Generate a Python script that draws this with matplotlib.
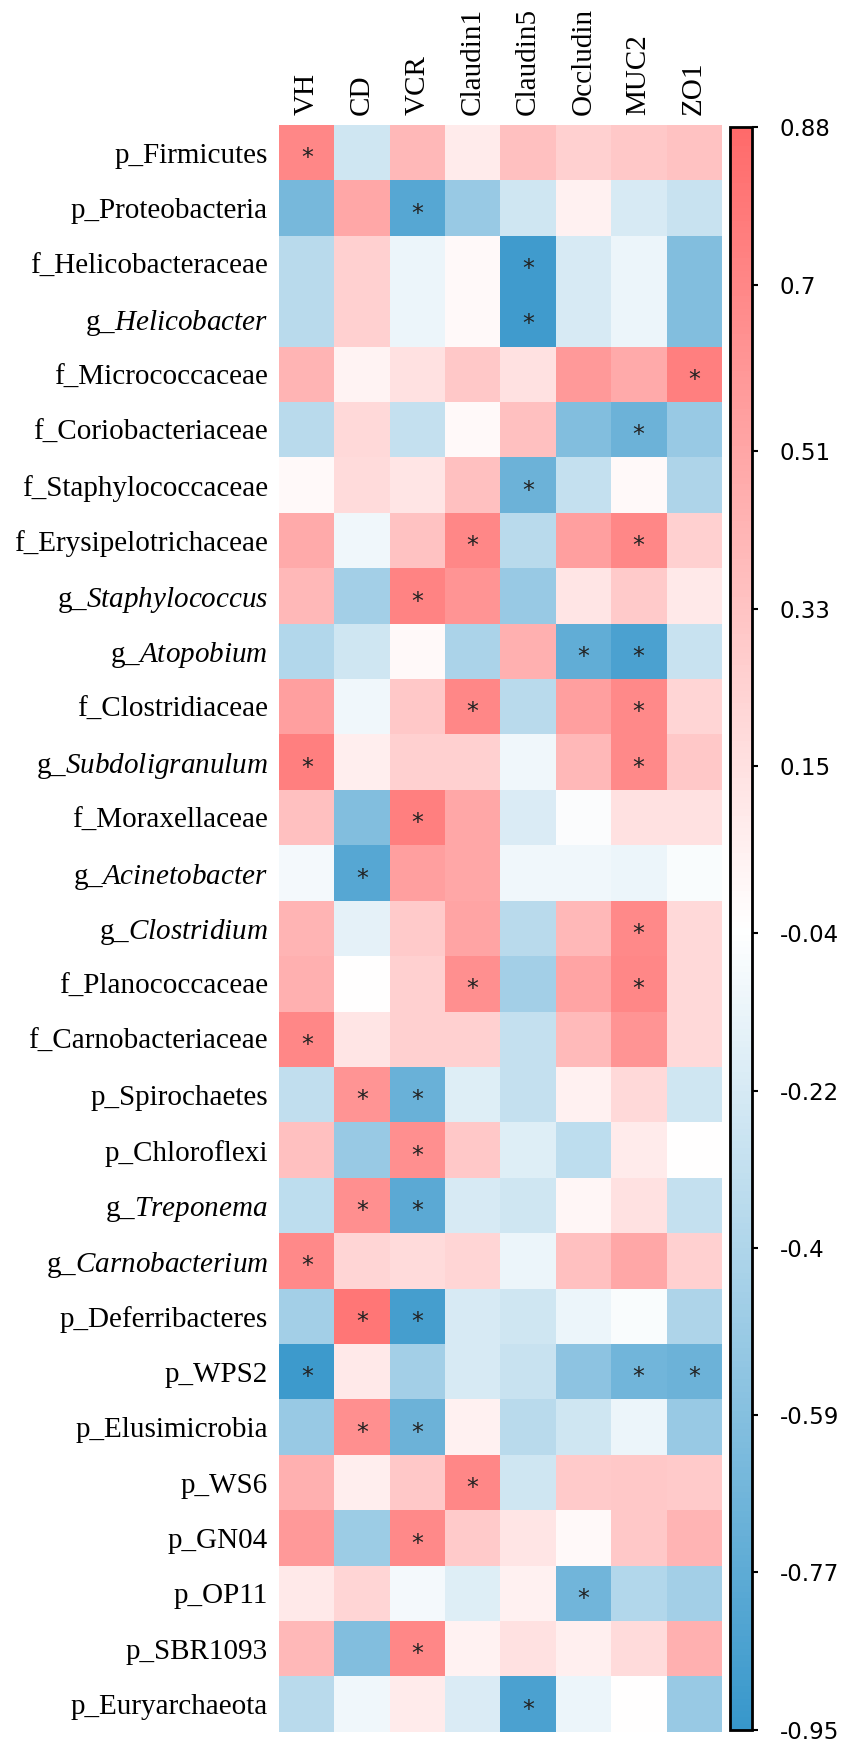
import numpy as np
import matplotlib
matplotlib.use("Agg")
import matplotlib.pyplot as plt
from matplotlib.colors import LinearSegmentedColormap, Normalize

plt.rcParams['font.family'] = ['Liberation Serif', 'DejaVu Serif']
plt.rcParams['mathtext.fontset'] = 'custom'
plt.rcParams['mathtext.rm'] = 'Liberation Serif'
plt.rcParams['mathtext.it'] = 'Liberation Serif:italic'

# columns (host indices) and rows (taxa)
cols = ["VH", "CD", "VCR", "Claudin1", "Claudin5", "Occludin", "MUC2", "ZO1"]

rows = [
    "p_Firmicutes", "p_Proteobacteria", "f_Helicobacteraceae", r"g_$Helicobacter$",
    "f_Micrococcaceae", "f_Coriobacteriaceae", "f_Staphylococcaceae",
    "f_Erysipelotrichaceae", r"g_$Staphylococcus$", r"g_$Atopobium$",
    "f_Clostridiaceae", r"g_$Subdoligranulum$", "f_Moraxellaceae",
    r"g_$Acinetobacter$", r"g_$Clostridium$", "f_Planococcaceae",
    "f_Carnobacteriaceae", "p_Spirochaetes", "p_Chloroflexi", r"g_$Treponema$",
    r"g_$Carnobacterium$", "p_Deferribacteres", "p_WPS2", "p_Elusimicrobia",
    "p_WS6", "p_GN04", "p_OP11", "p_SBR1093", "p_Euryarchaeota",
]

# correlation values, one list per row (VH ... ZO1)
corr = np.array([
    [0.70, -0.25, 0.40, 0.08, 0.35, 0.25, 0.30, 0.33],
    [-0.65, 0.50, -0.80, -0.50, -0.25, 0.05, -0.22, -0.28],
    [-0.35, 0.25, -0.12, 0.00, -0.90, -0.22, -0.12, -0.60],
    [-0.35, 0.25, -0.12, 0.00, -0.90, -0.22, -0.12, -0.60],
    [0.42, 0.03, 0.15, 0.30, 0.15, 0.58, 0.48, 0.75],
    [-0.35, 0.20, -0.30, 0.00, 0.35, -0.60, -0.70, -0.50],
    [0.00, 0.18, 0.12, 0.35, -0.70, -0.30, 0.00, -0.40],
    [0.48, -0.10, 0.33, 0.70, -0.35, 0.55, 0.70, 0.25],
    [0.40, -0.45, 0.72, 0.62, -0.50, 0.12, 0.28, 0.10],
    [-0.38, -0.25, 0.00, -0.42, 0.45, -0.75, -0.85, -0.28],
    [0.55, -0.10, 0.30, 0.70, -0.35, 0.55, 0.68, 0.22],
    [0.75, 0.07, 0.25, 0.25, -0.10, 0.40, 0.68, 0.30],
    [0.35, -0.60, 0.75, 0.50, -0.20, -0.05, 0.15, 0.15],
    [-0.08, -0.80, 0.55, 0.50, -0.10, -0.10, -0.12, -0.06],
    [0.42, -0.15, 0.28, 0.52, -0.35, 0.40, 0.68, 0.20],
    [0.45, -0.03, 0.25, 0.65, -0.45, 0.52, 0.70, 0.20],
    [0.70, 0.12, 0.25, 0.25, -0.30, 0.38, 0.62, 0.20],
    [-0.32, 0.62, -0.72, -0.18, -0.30, 0.05, 0.20, -0.25],
    [0.35, -0.50, 0.65, 0.30, -0.18, -0.33, 0.08, -0.03],
    [-0.33, 0.65, -0.78, -0.22, -0.25, 0.02, 0.15, -0.30],
    [0.68, 0.22, 0.18, 0.22, -0.12, 0.35, 0.50, 0.25],
    [-0.45, 0.80, -0.88, -0.22, -0.25, -0.12, -0.06, -0.40],
    [-0.92, 0.10, -0.45, -0.22, -0.28, -0.55, -0.68, -0.70],
    [-0.50, 0.65, -0.70, 0.05, -0.35, -0.25, -0.12, -0.50],
    [0.45, 0.07, 0.30, 0.70, -0.25, 0.28, 0.30, 0.28],
    [0.58, -0.48, 0.68, 0.28, 0.12, 0.00, 0.30, 0.42],
    [0.10, 0.22, -0.08, -0.18, 0.05, -0.68, -0.38, -0.45],
    [0.40, -0.60, 0.70, 0.04, 0.15, 0.06, 0.18, 0.45],
    [-0.35, -0.10, 0.08, -0.20, -0.85, -0.12, -0.03, -0.50],
])

# significance marks, same shape as corr
signif = [
    "*.......", "..*.....", "....*...", "....*...", ".......*",
    "......*.", "....*...", "...*..*.", "..*.....", ".....**.",
    "...*..*.", "*.....*.", "..*.....", ".*......", "......*.",
    "...*..*.", "*.......", ".**.....", "..*.....", ".**.....",
    "*.......", ".**.....", "*.....**", ".**.....", "...*....",
    "..*.....", ".....*..", "..*.....", "....*...",
]

cbar_ticks = [0.88, 0.7, 0.51, 0.33, 0.15, -0.04, -0.22, -0.4, -0.59, -0.77, -0.95]
vmin, vmax = -0.95, 0.88

cmap = LinearSegmentedColormap.from_list("bwr_soft", ["#3797cb", "#ffffff", "#ff6a6a"])

fig = plt.figure(figsize=(8.51, 17.51), dpi=100)
ax = fig.add_axes([0.328, 0.0109, 0.520, 0.9177])
im = ax.imshow(corr, cmap=cmap, norm=Normalize(vmin, vmax), aspect='auto',
               interpolation='nearest')

for i, s in enumerate(signif):
    for j, c in enumerate(s):
        if c == "*":
            ax.text(j, i + 0.1, "*", ha='center', va='center', fontsize=17,
                    family='DejaVu Sans', color='#222222')

ax.set_xticks(range(len(cols)))
ax.set_xticklabels(cols, rotation=90, fontsize=21)
ax.xaxis.tick_top()
ax.set_yticks(range(len(rows)))
ax.set_yticklabels(rows, fontsize=21)
ax.tick_params(length=0)
ax.tick_params(axis='x', pad=7)
ax.tick_params(axis='y', pad=8)
for sp in ax.spines.values():
    sp.set_visible(False)

cax = fig.add_axes([0.858, 0.012, 0.0259, 0.9155])
cb = fig.colorbar(im, cax=cax)
cb.set_ticks(cbar_ticks)
cb.set_ticklabels([f"{t:g}" for t in cbar_ticks])
cb.outline.set_linewidth(2)
cax.tick_params(labelsize=16.5, length=4, width=1.5, pad=16)
for lab in cax.get_yticklabels():
    lab.set_family('DejaVu Sans')

fig.savefig("out.png", dpi=100)
